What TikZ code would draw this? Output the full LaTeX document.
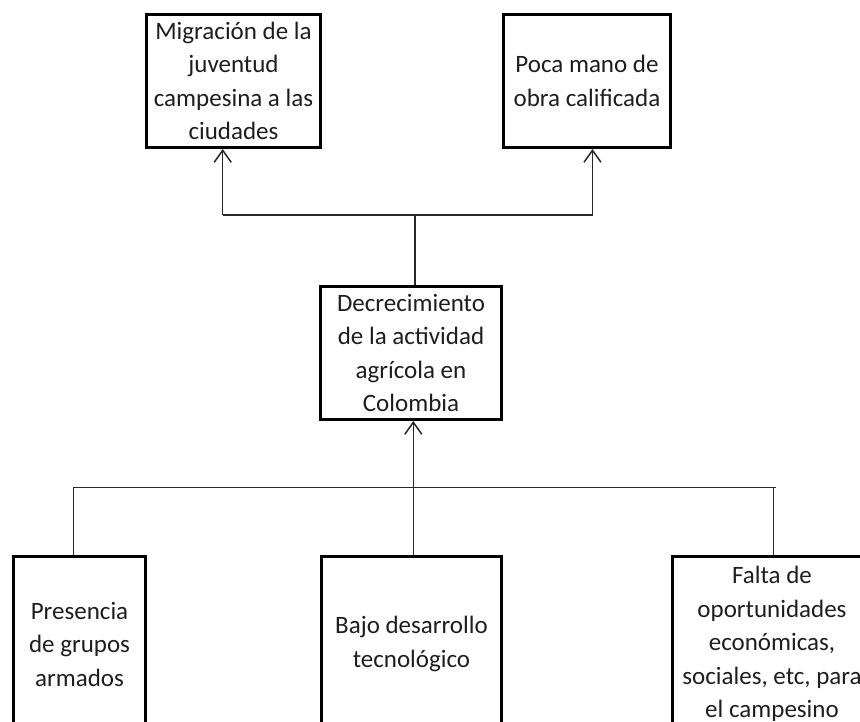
\documentclass[tikz,border=0pt]{standalone}
\usepackage{fontspec}
\setmainfont{Carlito}
\usetikzlibrary{arrows.meta}
\definecolor{txtc}{RGB}{30,30,30}
\definecolor{linec}{RGB}{40,40,40}
\tikzset{
  box/.style={draw=black, line width=3pt, rectangle, align=center, inner sep=2pt,
    text=txtc, font=\fontsize{25}{33.5}\selectfont},
  conn/.style={draw=linec, line width=1.5pt},
  arr/.style={conn, -{Straight Barb[length=12pt,width=17pt,line width=1.5pt]}}
}
\begin{document}
\begin{tikzpicture}[x=1pt,y=-1pt]
\useasboundingbox (0,0) rectangle (860,721);
\clip (0,0) rectangle (860,721);
\fill[white] (0,0) rectangle (860,721);
% boxes
\node[box, minimum width=174pt, minimum height=133pt] (A) at (233.5,81)
  {Migración de la\\juventud\\campesina a las\\ciudades};
\node[box, minimum width=167pt, minimum height=133pt] (B) at (587,81)
  {Poca mano de\\obra calificada};
\node[box, minimum width=181pt, minimum height=133pt] (C) at (411,353)
  {Decrecimiento\\de la actividad\\agrícola en\\Colombia};
\node[box, minimum width=132pt, minimum height=175pt] (D) at (79.5,644)
  {Presencia\\de grupos\\armados};
\node[box, minimum width=180pt, minimum height=175pt] (E) at (411.5,644)
  {Bajo desarrollo\\tecnológico};
\node[box, minimum width=199pt, minimum height=175pt] (F) at (772,644)
  {Falta de\\oportunidades\\económicas,\\sociales, etc, para\\el campesino};
% junction coordinates
\coordinate (jt) at (415,215);
\coordinate (jl) at (222.7,215);
\coordinate (jr) at (592.5,215);
\coordinate (kl) at (73.3,487.5);
\coordinate (kc) at (413.3,487.5);
\coordinate (kr) at (773.3,487.5);
\coordinate (ke) at (775.5,487.5);
% top connectors
\draw[conn] (C.north -| jt) -- (jt);
\draw[conn] (jl) -- (jr);
\draw[arr] (jl) -- (jl |- A.south);
\draw[arr] (jr) -- (jr |- B.south);
% bottom connectors
\draw[conn] (kl) -- (ke);
\draw[conn] (kl) -- (kl |- D.north);
\draw[conn] (kr) -- (kr |- F.north);
\draw[arr] (E.north -| kc) -- (C.south -| kc);
\end{tikzpicture}
\end{document}
